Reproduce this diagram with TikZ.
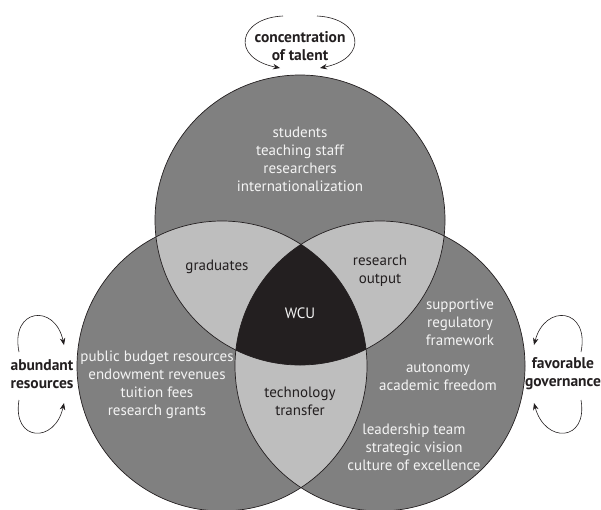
\documentclass[tikz,border=0pt]{standalone}
\usepackage{fontspec}
\setmainfont{PT Sans}
\usetikzlibrary{arrows.meta}
\definecolor{circgray}{HTML}{808080}
\definecolor{lensgray}{HTML}{BEBEBE}
\definecolor{coregray}{HTML}{231F20}
\definecolor{txtwhite}{HTML}{F4F4F4}
\begin{document}
\begin{tikzpicture}[x=1pt,y=-1pt,
  lbl/.style={align=center,font=\fontsize{15}{18}\selectfont,inner sep=0pt},
  whitelbl/.style={lbl,text=txtwhite},
  darklbl/.style={lbl,text=coregray},
  boldlbl/.style={align=center,inner sep=0pt,font=\fontsize{15.5}{18}\selectfont\bfseries,text=coregray},
  ring/.style={circle,draw=coregray,line width=0.7pt,minimum size=290pt,inner sep=0pt},
  looparrow/.style={draw=coregray,line width=0.6pt,-{Stealth[length=7pt,width=5.5pt]}},
]
\useasboundingbox (0,0) rectangle (601,509);
\coordinate (cT) at (300,220);
\coordinate (cL) at (222,366);
\coordinate (cR) at (380,366);
% base fills
\fill[circgray] (cT) circle[radius=145pt];
\fill[circgray] (cL) circle[radius=145pt];
\fill[circgray] (cR) circle[radius=145pt];
% pairwise lenses
\begin{scope}\clip (cT) circle[radius=145pt]; \fill[lensgray] (cL) circle[radius=145pt];\end{scope}
\begin{scope}\clip (cT) circle[radius=145pt]; \fill[lensgray] (cR) circle[radius=145pt];\end{scope}
\begin{scope}\clip (cL) circle[radius=145pt]; \fill[lensgray] (cR) circle[radius=145pt];\end{scope}
% core
\begin{scope}\clip (cT) circle[radius=145pt]; \clip (cL) circle[radius=145pt]; \fill[coregray] (cR) circle[radius=145pt];\end{scope}
% outlines
\node[ring] (top) at (cT) {};
\node[ring] (left) at (cL) {};
\node[ring] (right) at (cR) {};
% texts
\node[whitelbl] (talentlist) at (300,159) {students\\teaching staff\\researchers\\internationalization};
\node[darklbl] (grad) at (217,267) {graduates};
\node[darklbl] (resout) at (380,271) {research\\output};
\node[whitelbl] (wcu) at (300,313) {WCU};
\node[whitelbl] (support) at (460,322) {supportive\\regulatory\\framework};
\node[whitelbl] (autonomy) at (438,377) {autonomy\\academic freedom};
\node[whitelbl] (leader) at (414,447) {leadership team\\strategic vision\\culture of excellence};
\node[whitelbl] (public) at (157,385) {public budget resources\\endowment revenues\\tuition fees\\research grants};
\node[darklbl] (tech) at (300,401) {technology\\transfer};
\node[boldlbl] (talent) at (300,46) {concentration\\of talent};
\node[boldlbl] (abund) at (42,374) {abundant\\resources};
\node[boldlbl] (gov) at (563,374) {favorable\\governance};
% loop arrows
\coordinate (tA1) at (283,16); \coordinate (tB1) at (280,68);
\coordinate (tA2) at (317,16); \coordinate (tB2) at (320,68);
\draw[looparrow] (tA1) .. controls (238,18) and (230,58) .. (tB1);
\draw[looparrow] (tA2) .. controls (362,18) and (370,58) .. (tB2);
\coordinate (lA1) at (19,352); \coordinate (lB1) at (64,345);
\coordinate (lA2) at (19,400); \coordinate (lB2) at (64,403);
\draw[looparrow] (lA1) .. controls (10,308) and (55,303) .. (lB1);
\draw[looparrow] (lA2) .. controls (12,442) and (55,444) .. (lB2);
\coordinate (rA1) at (581,352); \coordinate (rB1) at (534,345);
\coordinate (rA2) at (581,400); \coordinate (rB2) at (534,403);
\draw[looparrow] (rA1) .. controls (590,308) and (545,303) .. (rB1);
\draw[looparrow] (rA2) .. controls (588,442) and (545,444) .. (rB2);
\end{tikzpicture}
\end{document}
